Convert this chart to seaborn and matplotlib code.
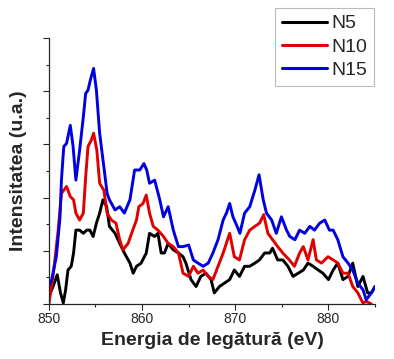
import numpy as np
import pandas as pd
import matplotlib
matplotlib.use('Agg')
import matplotlib.pyplot as plt
import seaborn as sns
from matplotlib.ticker import MultipleLocator, NullFormatter

# Binding energy (eV) and intensity (a.u.)
n15_x = [850.0, 850.3, 850.8, 851.2, 851.35, 851.6, 851.9, 852.3, 852.6, 852.9,
         853.3, 853.7, 853.95, 854.2, 854.45, 854.8, 855.1, 855.45, 855.9, 856.25,
         856.5, 857.1, 857.6, 858.1, 858.7, 859.2, 859.75, 860.2, 860.5, 860.8,
         861.35, 861.9, 862.3, 862.8, 863.35, 863.9, 864.4, 865.0, 865.5, 866.0,
         866.55, 867.1, 867.6, 868.15, 868.7, 869.05, 869.4, 869.75, 870.2, 870.5,
         871.0, 871.55, 872.1, 872.55, 873.0, 873.35, 873.9, 874.4, 874.95, 875.5,
         875.85, 876.4, 876.9, 877.45, 878.0, 878.5, 879.05, 879.6, 880.1, 880.5,
         881.0, 881.55, 882.1, 882.6, 883.15, 883.7, 884.05, 884.6, 885.0]
n15_y = [0.33, 0.46, 0.89, 1.64, 2.33, 2.96, 3.02, 3.36, 2.96, 2.33,
         2.89, 3.52, 3.96, 4.02, 4.21, 4.43, 4.02, 3.21, 2.58, 2.08,
         1.96, 1.77, 1.83, 1.71, 1.96, 2.52, 2.52, 2.64, 2.52, 2.27,
         2.33, 1.96, 1.64, 1.83, 1.39, 1.08, 1.08, 1.11, 0.83, 0.77,
         0.71, 0.77, 0.96, 1.21, 1.58, 1.71, 1.89, 1.64, 1.46, 1.33,
         1.71, 1.83, 2.14, 2.43, 1.96, 1.71, 1.58, 1.33, 1.64, 1.39,
         1.27, 1.21, 1.39, 1.33, 1.46, 1.39, 1.52, 1.58, 1.39, 1.39,
         1.21, 0.89, 0.77, 0.64, 0.39, 0.27, 0.08, 0.21, 0.33]

n10_x = [850.0, 850.45, 851.0, 851.35, 851.9, 852.3, 852.65, 852.9, 853.3, 853.7,
         853.95, 854.2, 854.55, 854.8, 855.15, 855.45, 855.9, 856.25, 856.7, 857.2,
         857.6, 857.95, 858.5, 859.0, 859.4, 859.65, 860.1, 860.45, 860.8, 861.2,
         861.7, 862.3, 862.8, 863.35, 863.9, 864.4, 865.0, 865.5, 866.0, 866.55,
         867.1, 867.6, 868.15, 868.7, 869.4, 869.9, 870.45, 871.0, 871.55, 872.1,
         872.6, 873.05, 873.5, 874.0, 874.55, 875.1, 875.8, 876.35, 876.9, 877.3,
         877.8, 878.35, 878.7, 879.25, 879.95, 880.5, 881.0, 881.55, 882.1, 882.6,
         883.15, 883.7, 884.05, 884.6]
n10_y = [0.0, 0.52, 1.39, 2.08, 2.21, 2.02, 1.96, 1.71, 1.58, 1.71,
         2.39, 2.96, 3.08, 3.21, 2.89, 2.27, 2.14, 1.71, 1.58, 1.52,
         1.21, 1.02, 1.14, 1.39, 1.58, 1.83, 1.89, 2.05, 1.71, 1.46,
         1.39, 1.27, 1.14, 1.08, 0.96, 0.58, 0.52, 0.71, 0.58, 0.64,
         0.52, 0.46, 0.71, 0.96, 1.33, 0.89, 0.83, 1.21, 1.39, 1.46,
         1.52, 1.68, 1.33, 1.21, 1.08, 0.96, 0.83, 0.71, 0.96, 1.08,
         0.83, 1.21, 0.83, 0.77, 0.89, 0.83, 0.77, 0.58, 0.58, 0.33,
         0.21, 0.02, 0.05, 0.0]

n5_x = [850.0, 850.45, 850.9, 851.25, 851.55, 851.8, 852.05, 852.4, 852.65, 852.9,
        853.3, 853.7, 854.05, 854.4, 854.75, 855.1, 855.45, 855.8, 856.2, 856.5,
        857.1, 857.6, 858.1, 858.7, 859.05, 859.4, 859.9, 860.45, 860.8, 861.35,
        861.7, 862.05, 862.4, 862.8, 863.35, 863.9, 864.4, 864.7, 865.25, 865.8,
        866.3, 866.85, 867.4, 867.75, 868.3, 868.8, 869.4, 869.9, 870.45, 871.0,
        871.55, 872.1, 872.6, 873.15, 873.7, 874.0, 874.55, 875.1, 875.65, 876.2,
        876.75, 877.3, 877.8, 878.35, 878.9, 879.4, 880.0, 880.5, 881.0, 881.55,
        882.1, 882.6, 883.15, 883.7, 884.2, 884.6, 885.0]
n5_y = [0.14, 0.33, 0.55, 0.21, 0.02, 0.27, 0.64, 0.71, 0.96, 1.39,
        1.39, 1.33, 1.39, 1.39, 1.27, 1.52, 1.71, 1.96, 1.83, 1.46,
        1.33, 1.14, 0.96, 0.77, 0.58, 0.71, 0.77, 0.96, 1.33, 1.27,
        1.33, 0.96, 0.96, 1.14, 1.02, 0.96, 0.89, 0.77, 0.46, 0.33,
        0.52, 0.58, 0.46, 0.21, 0.33, 0.39, 0.46, 0.64, 0.52, 0.71,
        0.71, 0.77, 0.83, 0.96, 0.96, 1.05, 0.83, 0.83, 0.71, 0.52,
        0.58, 0.64, 0.77, 0.71, 0.64, 0.58, 0.46, 0.64, 0.77, 0.46,
        0.52, 0.77, 0.33, 0.52, 0.21, 0.21, 0.33]

series = ['N5', 'N10', 'N15']
colors = {'N5': '#000000', 'N10': '#e00000', 'N15': '#0000e0'}

df = pd.concat([
    pd.DataFrame({'energy': n5_x, 'intensity': n5_y, 'sample': 'N5'}),
    pd.DataFrame({'energy': n10_x, 'intensity': n10_y, 'sample': 'N10'}),
    pd.DataFrame({'energy': n15_x, 'intensity': n15_y, 'sample': 'N15'}),
], ignore_index=True)

sns.set_style('ticks')
plt.rcParams['font.family'] = ['Liberation Sans', 'DejaVu Sans']

fig = plt.figure(figsize=(3.94, 3.59), dpi=100)
ax = fig.add_axes([0.124, 0.153, 0.828, 0.741])

sns.lineplot(data=df, x='energy', y='intensity', hue='sample', hue_order=series,
             palette=colors, linewidth=2.1, sort=False, estimator=None, ax=ax)

ax.set_xlim(850, 885)
ax.set_ylim(0, 5)
ax.xaxis.set_major_locator(MultipleLocator(10))
ax.xaxis.set_minor_locator(MultipleLocator(5))
ax.yaxis.set_major_locator(MultipleLocator(1))
ax.yaxis.set_minor_locator(MultipleLocator(0.5))
ax.yaxis.set_major_formatter(NullFormatter())
ax.tick_params(axis='both', which='major', length=4, width=0.8, labelsize=10, pad=2)
ax.tick_params(axis='both', which='minor', length=2.5, width=0.8)
for side in ['top', 'right']:
    ax.spines[side].set_visible(False)
ax.spines['left'].set_linewidth(0.9)
ax.spines['bottom'].set_linewidth(0.9)

ax.set_xlabel('Energia de legătură (eV)', fontsize=14, fontweight='bold', labelpad=4)
ax.set_ylabel('Intensitatea (u.a.)', fontsize=14, fontweight='bold', labelpad=10)

leg = ax.legend(loc='upper right', bbox_to_anchor=(0.997, 1.113), fontsize=14,
                frameon=True, fancybox=False, handlelength=2.3, handletextpad=0.25,
                borderpad=0.35, labelspacing=0.3, borderaxespad=0)
leg.get_frame().set_edgecolor('#aaaaaa')
leg.get_frame().set_linewidth(0.8)
for line in leg.get_lines():
    line.set_linewidth(2.2)

fig.savefig('out.png', dpi=100)
